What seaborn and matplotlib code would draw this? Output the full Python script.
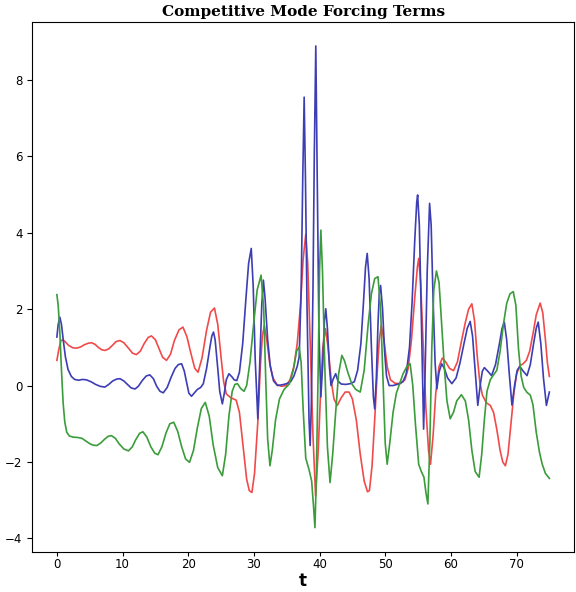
import numpy as np
import pandas as pd
import matplotlib
matplotlib.use("Agg")
import matplotlib.pyplot as plt
import seaborn as sns

# forcing term values, one (t, value) list per mode
t_red = [0.0, 0.3, 0.6, 0.9, 1.3, 1.8, 2.4, 3.0, 3.6, 4.2, 4.8, 5.3, 5.8, 6.3, 6.8, 7.3,
         7.9, 8.5, 9.0, 9.6, 10.2, 10.9, 11.5, 12.1, 12.7, 13.3, 13.9, 14.4, 15.0, 15.6,
         16.1, 16.7, 17.3, 17.9, 18.6, 19.2, 19.8, 20.4, 21.0, 21.5, 22.1, 22.8, 23.4,
         24.0, 24.5, 25.0, 25.4, 25.8, 26.5, 27.3, 27.8, 28.3, 28.9, 29.3, 29.7, 30.1,
         30.6, 31.0, 31.3, 31.6, 32.0, 32.4, 32.9, 33.5, 34.2, 34.9, 35.5, 36.1, 36.6,
         37.1, 37.5, 37.9, 38.2, 38.6, 39.0, 39.4, 39.8, 40.2, 40.5, 40.9, 41.3, 41.8,
         42.2, 42.7, 43.3, 43.9, 44.5, 45.0, 45.6, 46.2, 46.8, 47.3, 47.6, 48.0, 48.4,
         48.8, 49.1, 49.4, 49.8, 50.3, 50.8, 51.5, 52.3, 53.0, 53.5, 54.0, 54.5, 54.9,
         55.1, 55.4, 55.8, 56.2, 56.6, 56.9, 57.3, 57.7, 58.2, 58.7, 59.2, 59.8, 60.4,
         61.0, 61.6, 62.2, 62.7, 63.2, 63.6, 64.0, 64.4, 64.8, 65.4, 66.0, 66.5, 67.0,
         67.5, 67.9, 68.3, 68.7, 69.1, 69.6, 70.0, 70.5, 71.0, 71.5, 72.0, 72.5, 73.0,
         73.6, 74.0, 74.4, 74.7, 75.0]
red = [0.66, 0.95, 1.17, 1.20, 1.14, 1.05, 0.99, 0.98, 1.01, 1.07, 1.11, 1.12, 1.08, 1.00, 0.94, 0.92,
       0.96, 1.06, 1.15, 1.18, 1.12, 0.98, 0.85, 0.81, 0.90, 1.10, 1.26, 1.30, 1.20, 0.95,
       0.74, 0.66, 0.82, 1.18, 1.46, 1.53, 1.28, 0.85, 0.45, 0.35, 0.72, 1.45, 1.92,
       2.03, 1.6, 0.75, 0.1, -0.22, -0.32, -0.38, -0.7, -1.5, -2.45, -2.75, -2.80, -2.3,
       -0.96, 0.55, 1.3, 1.57, 1.15, 0.6, 0.2, 0.03, -0.02, 0.0, 0.15, 0.5, 1.1,
       2.1, 3.3, 3.96, 3.2, 1.0, -1.3, -2.89, -1.7, 0.0, 1.0, 1.49, 1.0, 0.1,
       -0.35, -0.52, -0.32, -0.17, -0.17, -0.35, -0.9, -1.8, -2.5, -2.78, -2.75, -2.1, -0.9,
       0.4, 1.2, 1.57, 1.2, 0.5, 0.15, 0.06, 0.05, 0.15, 0.45, 1.2, 2.3, 3.1,
       3.33, 2.7, 1.0, -0.6, -1.7, -2.06, -1.3, -0.2, 0.5, 0.72, 0.62, 0.45, 0.39,
       0.62, 1.15, 1.65, 2.0, 2.14, 1.7, 0.8, 0.1, -0.25, -0.45, -0.52, -0.7, -1.15,
       -1.7, -2.0, -2.10, -1.8, -1.1, -0.2, 0.3, 0.52, 0.57, 0.66, 0.9, 1.35, 1.85,
       2.16, 1.9, 1.2, 0.6, 0.24]

t_blue = [0.0, 0.2, 0.45, 0.7, 1.0, 1.3, 1.7, 2.2, 2.7, 3.3, 3.9, 4.5, 5.2, 5.9, 6.6, 7.3,
          7.9, 8.5, 9.1, 9.6, 10.2, 10.8, 11.3, 11.9, 12.4, 13.0, 13.6, 14.15, 14.7, 15.2,
          15.7, 16.2, 16.8, 17.4, 18.0, 18.5, 19.0, 19.4, 19.8, 20.1, 20.5, 20.9, 21.4,
          21.9, 22.3, 22.8, 23.3, 23.6, 23.85, 24.1, 24.5, 24.8, 25.2, 25.5, 25.8, 26.2,
          26.7, 27.0, 27.4, 27.8, 28.3, 28.8, 29.2, 29.6, 29.9, 30.2, 30.6, 30.9, 31.2,
          31.45, 31.7, 32.1, 32.5, 33.0, 33.6, 34.3, 35.0, 35.6, 36.1, 36.6, 36.9, 37.2,
          37.45, 37.66, 37.85, 38.1, 38.4, 38.57, 38.75, 39.0, 39.2, 39.43, 39.65, 39.9,
          40.2, 40.5, 40.75, 40.95, 41.2, 41.5, 41.75, 42.1, 42.46, 42.8, 43.3, 44.0,
          44.7, 45.3, 45.8, 46.3, 46.7, 47.0, 47.26, 47.55, 47.9, 48.2, 48.4, 48.65,
          48.9, 49.1, 49.3, 49.6, 49.9, 50.2, 50.6, 51.2, 52.0, 52.7, 53.2, 53.7, 54.1,
          54.5, 54.8, 54.94, 55.2, 55.5, 55.85, 56.1, 56.4, 56.76, 57.0, 57.3, 57.6,
          57.87, 58.2, 58.6, 59.0, 59.5, 60.15, 60.8, 61.4, 62.0, 62.5, 62.94, 63.3,
          63.7, 64.1, 64.5, 64.8, 65.1, 65.6, 66.2, 66.8, 67.4, 67.8, 68.14, 68.5, 68.9,
          69.3, 69.7, 70.1, 70.5, 71.0, 71.6, 72.1, 72.6, 73.0, 73.3, 73.7, 74.1, 74.55,
          75.0]
blue = [1.27, 1.6, 1.79, 1.6, 1.15, 0.75, 0.42, 0.24, 0.16, 0.14, 0.16, 0.15, 0.1, 0.03, -0.02, -0.04,
        0.03, 0.12, 0.17, 0.18, 0.12, 0.02, -0.06, -0.09, -0.02, 0.13, 0.25, 0.28, 0.18, -0.02,
        -0.15, -0.19, -0.05, 0.22, 0.45, 0.55, 0.57, 0.38, 0.05, -0.2, -0.28, -0.2, -0.1,
        -0.05, 0.05, 0.45, 1.0, 1.3, 1.40, 1.2, 0.45, -0.15, -0.48, -0.2, 0.15, 0.31,
        0.22, 0.15, 0.13, 0.35, 1.1, 2.3, 3.2, 3.59, 2.6, 0.7, -0.87, 0.6, 2.1,
        2.76, 2.3, 1.2, 0.5, 0.12, 0.0, 0.02, 0.05, 0.1, 0.25, 0.5, 0.75, 2.5,
        5.5, 7.55, 5.5, 2.0, -0.9, -1.57, -0.5, 2.5, 6.0, 8.89, 5.5, 1.5,
        -0.3, 0.6, 1.7, 2.01, 1.5, 0.5, 0.0, 0.18, 0.31, 0.12, 0.04, 0.03,
        0.05, 0.1, 0.4, 1.1, 2.2, 3.1, 3.46, 2.8, 1.0, -0.3, -0.61, 0.2,
        1.6, 2.4, 2.62, 2.0, 0.9, 0.25, 0.0, 0.0, 0.04, 0.1, 0.3, 1.0, 2.2,
        3.8, 4.8, 4.99, 4.2, 1.8, -1.14, 0.5, 3.0, 4.77, 4.2, 2.2, 0.6,
        -0.09, 0.35, 0.57, 0.45, 0.2, 0.05, 0.2, 0.6, 1.1, 1.5, 1.68, 1.3,
        0.4, -0.52, 0.05, 0.38, 0.47, 0.38, 0.26, 0.55, 1.1, 1.5, 1.66, 1.2, 0.3,
        -0.51, 0.0, 0.4, 0.50, 0.38, 0.26, 0.55, 1.1, 1.5, 1.66, 1.1, 0.2, -0.52,
        -0.17]

t_green = [0.0, 0.2, 0.45, 0.7, 0.95, 1.2, 1.5, 1.9, 2.5, 3.2, 3.8, 4.4, 5.0, 5.5, 6.1,
           6.7, 7.3, 7.8, 8.3, 8.9, 9.5, 10.2, 10.9, 11.5, 12.0, 12.6, 13.1, 13.7, 14.3,
           14.9, 15.4, 16.0, 16.6, 17.2, 17.8, 18.4, 19.0, 19.6, 20.2, 20.8, 21.4, 22.0,
           22.6, 23.2, 23.8, 24.5, 25.2, 25.7, 26.2, 26.7, 27.1, 27.5, 28.0, 28.5, 28.9,
           29.4, 29.9, 30.5, 31.1, 31.5, 31.8, 32.1, 32.45, 32.8, 33.3, 33.9, 34.6, 35.4,
           36.0, 36.5, 36.9, 37.2, 37.5, 37.9, 38.4, 38.8, 39.1, 39.3, 39.5, 39.8, 40.0,
           40.2, 40.45, 40.8, 41.2, 41.6, 42.0, 42.5, 42.9, 43.4, 43.8, 44.3, 44.9, 45.5,
           46.2, 46.8, 47.4, 47.9, 48.4, 48.9, 49.3, 49.7, 50.0, 50.3, 50.7, 51.2, 51.7,
           52.1, 52.7, 53.3, 53.8, 54.2, 54.6, 55.1, 55.5, 55.9, 56.2, 56.5, 56.8, 57.1,
           57.4, 57.8, 58.2, 58.6, 59.0, 59.4, 59.9, 60.4, 60.9, 61.6, 62.2, 62.7, 63.2,
           63.7, 64.3, 64.7, 65.1, 65.5, 66.0, 66.5, 67.0, 67.5, 68.0, 68.5, 69.0, 69.5,
           69.9, 70.3, 70.7, 71.1, 71.6, 72.1, 72.5, 73.0, 73.5, 73.9, 74.4, 75.0]
green = [2.38, 2.1, 1.4, 0.4, -0.45, -0.95, -1.22, -1.32, -1.35, -1.36, -1.38, -1.45, -1.52, -1.56, -1.57,
         -1.5, -1.4, -1.33, -1.31, -1.38, -1.53, -1.66, -1.71, -1.6, -1.42, -1.25, -1.21, -1.35, -1.6,
         -1.77, -1.81, -1.6, -1.25, -1.0, -0.96, -1.2, -1.6, -1.92, -2.01, -1.7, -1.1, -0.6,
         -0.44, -0.8, -1.55, -2.15, -2.36, -1.8, -0.8, -0.15, 0.03, 0.05, -0.08, -0.15, 0.0,
         0.6, 1.5, 2.5, 2.89, 2.0, 0.2, -1.4, -2.10, -1.7, -0.9, -0.35, -0.1, 0.04,
         0.4, 0.9, 1.01, 0.6, -0.6, -1.9, -2.2, -2.5, -3.2, -3.72, -2.5, 0.5, 3.0,
         4.07, 3.0, 0.5, -1.6, -2.54, -1.8, -0.6, 0.3, 0.79, 0.65, 0.35, 0.05, -0.1,
         -0.17, 0.4, 1.6, 2.4, 2.8, 2.85, 2.0, 0.0, -1.5, -2.06, -1.5, -0.7, -0.2,
         0.0, 0.3, 0.5, 0.57, 0.0, -1.0, -2.06, -2.25, -2.4, -2.8, -3.10, -1.5, 1.0,
         2.5, 3.0, 2.7, 1.6, 0.5, -0.4, -0.87, -0.7, -0.4, -0.24, -0.4, -0.9, -1.7,
         -2.25, -2.40, -1.8, -0.9, -0.15, 0.15, 0.28, 0.4, 0.9, 1.6, 2.15, 2.4, 2.46,
         2.1, 0.96, 0.25, -0.05, -0.18, -0.25, -0.5, -1.22, -1.75, -2.05, -2.3, -2.43]

series = [
    (t_red, red, "#f24a4a"),
    (t_blue, blue, "#3d3db4"),
    (t_green, green, "#3a9c3a"),
]

fig, ax = plt.subplots(figsize=(5.76, 5.92), dpi=100)
fig.subplots_adjust(left=0.056, right=0.9965, bottom=0.068, top=0.963)

for t, vals, col in series:
    df = pd.DataFrame({"t": t, "v": vals})
    sns.lineplot(data=df, x="t", y="v", color=col, linewidth=1.2,
                 estimator=None, sort=False, ax=ax)

ax.set_xticks(np.arange(0, 71, 10))
ax.set_yticks(np.arange(-4, 9, 2))
ax.tick_params(labelsize=8.5)
ax.tick_params(axis="x", length=3, pad=1.5)
ax.set_ylabel("")
ax.set_xlabel("t", fontsize=12, fontweight="bold", labelpad=1)
ax.set_title("Competitive Mode Forcing Terms", fontsize=11, fontweight="bold",
             family="DejaVu Serif", pad=4)

fig.savefig("out.png", dpi=100)
